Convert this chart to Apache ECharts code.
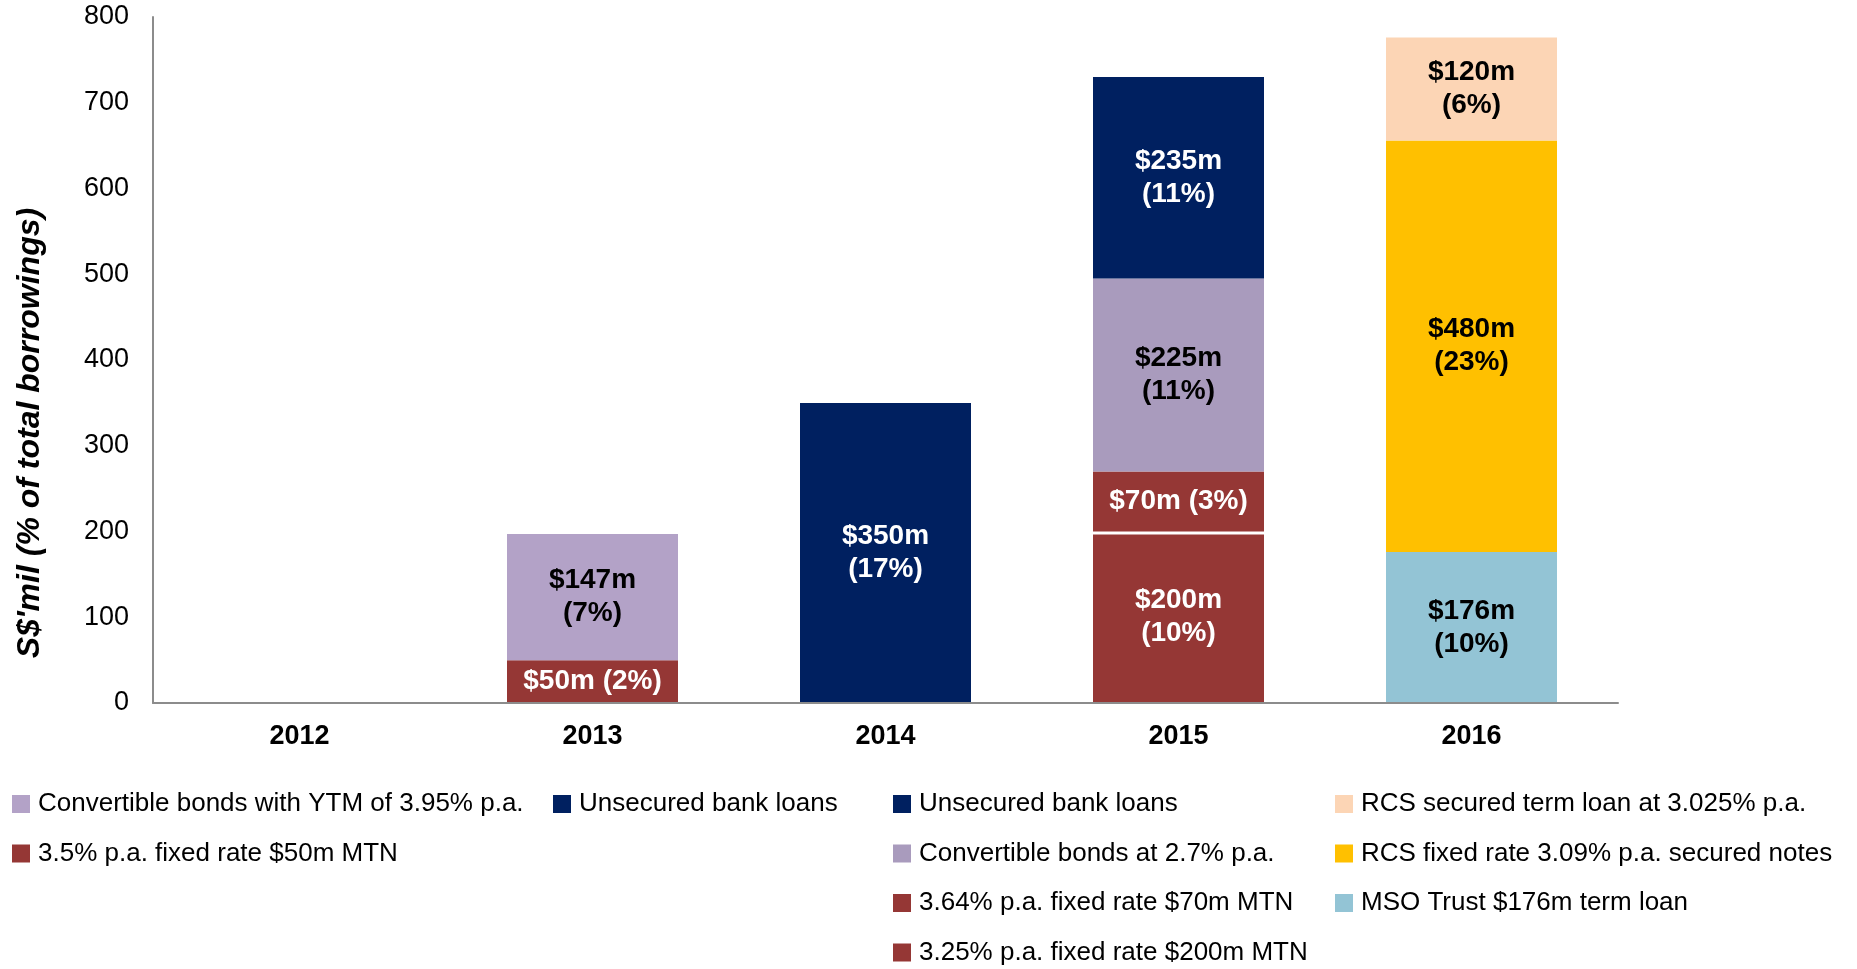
<!DOCTYPE html>
<html>
<head>
<meta charset="utf-8">
<title>Borrowings by maturity</title>
<script src="https://cdn.jsdelivr.net/npm/echarts@6/dist/echarts.min.js"></script>
<style>
  html, body { margin: 0; padding: 0; background: #fff; }
  #content { width: 1857px; height: 969px; }
</style>
</head>
<body>
<div id="content"></div>
<script>
// 数据：每个系列只在自己的年份有值
var years = ['2012', '2013', '2014', '2015', '2016'];

var mtn50    = [null, 50, null, null, null];
var cb395    = [null, 147, null, null, null];
var bank2014 = [null, null, 350, null, null];
var mtn200   = [null, null, null, 200, null];
var mtn70    = [null, null, null, 70, null];
var cb27     = [null, null, null, 225, null];
var bank2015 = [null, null, null, 235, null];
var mso      = [null, null, null, null, 176];
var rcsNotes = [null, null, null, null, 480];
var rcsLoan  = [null, null, null, null, 120];

// % of total borrowings, same order as the series below
var shares = [2, 7, 17, 10, 3, 11, 11, 10, 23, 6];

var legendNames = {
    cb395: 'Convertible bonds with YTM of 3.95% p.a.',
    mtn50: '3.5% p.a. fixed rate $50m MTN',
    bank2014: 'Unsecured bank loans',
    bank2015: 'Unsecured bank loans',
    cb27: 'Convertible bonds at 2.7% p.a.',
    mtn70: '3.64% p.a. fixed rate $70m MTN',
    mtn200: '3.25% p.a. fixed rate $200m MTN',
    rcsLoan: 'RCS secured term loan at 3.025% p.a.',
    rcsNotes: 'RCS fixed rate 3.09% p.a. secured notes',
    mso: 'MSO Trust $176m term loan'
};

var RED = '#953735', NAVY = '#002060';

function seg(key, data, idx, color, textColor, oneLine, extra) {
    var s = {
        name: key,
        type: 'bar',
        stack: 'total',
        barWidth: 171,
        data: data,
        itemStyle: { color: color },
        label: {
            show: true,
            position: 'inside',
            color: textColor,
            fontFamily: 'Liberation Sans, Arial, sans-serif',
            fontWeight: 'bold',
            fontSize: 28,
            lineHeight: 33,
            formatter: function (p) {
                var sep = oneLine ? ' ' : '\n';
                return '$' + p.value + 'm' + sep + '(' + shares[idx] + '%)';
            }
        }
    };
    if (extra) s.itemStyle = Object.assign(s.itemStyle, extra);
    return s;
}

var legendText = {
    fontFamily: 'Liberation Sans, Arial, sans-serif',
    fontSize: 26,
    lineHeight: 26,
    color: '#000',
    padding: [0, 0, 0, 3]
};

function legendCol(left, names) {
    return {
        orient: 'vertical',
        left: left,
        top: 786,
        height: 180,
        itemWidth: 18,
        itemHeight: 18,
        itemGap: 23.5,
        icon: 'rect',
        selectedMode: false,
        data: names,
        formatter: function (n) { return legendNames[n]; },
        textStyle: legendText
    };
}

var option = {
    animation: false,
    backgroundColor: '#fff',
    grid: { left: 153, right: 239, top: 17, bottom: 266 },
    legend: [
        legendCol(7, ['cb395', 'mtn50']),
        legendCol(548, ['bank2014']),
        legendCol(888, ['bank2015', 'cb27', 'mtn70', 'mtn200']),
        legendCol(1330, ['rcsLoan', 'rcsNotes', 'mso'])
    ],
    graphic: [{
        type: 'text',
        x: 30,
        y: 433,
        rotation: Math.PI / 2,
        style: {
            text: "S$'mil (% of total borrowings)",
            fontFamily: 'Liberation Sans, Arial, sans-serif',
            fontWeight: 'bold',
            fontStyle: 'italic',
            fontSize: 32,
            fill: '#000',
            align: 'center',
            verticalAlign: 'middle'
        }
    }],
    xAxis: {
        type: 'category',
        data: years,
        z: 10,
        axisTick: { show: false },
        axisLine: { lineStyle: { color: '#8c8c8c', width: 2 } },
        axisLabel: {
            margin: 20,
            color: '#000',
            fontFamily: 'Liberation Sans, Arial, sans-serif',
            fontWeight: 'bold',
            fontSize: 27
        }
    },
    yAxis: {
        type: 'value',
        min: 0,
        max: 800,
        interval: 100,
        splitLine: { show: false },
        axisTick: { show: false },
        axisLine: { show: true, lineStyle: { color: '#8c8c8c', width: 2 } },
        axisLabel: {
            margin: 24,
            color: '#000',
            fontFamily: 'Liberation Sans, Arial, sans-serif',
            fontSize: 27
        }
    },
    series: [
        seg('mtn50', mtn50, 0, RED, '#fff', true),
        seg('cb395', cb395, 1, '#B3A2C7', '#000', false),
        seg('bank2014', bank2014, 2, NAVY, '#fff', false),
        seg('mtn200', mtn200, 3, RED, '#fff', false),
        // white separator under the $70m block
        seg('mtn70', mtn70, 4, RED, '#fff', true, { shadowColor: '#fff', shadowBlur: 0, shadowOffsetY: 3 }),
        seg('cb27', cb27, 5, '#A99BBD', '#000', false),
        seg('bank2015', bank2015, 6, NAVY, '#fff', false),
        seg('mso', mso, 7, '#93C4D5', '#000', false),
        seg('rcsNotes', rcsNotes, 8, '#FFC000', '#000', false),
        seg('rcsLoan', rcsLoan, 9, '#FCD5B5', '#000', false)
    ]
};

var myChart = echarts.init(document.getElementById('content'));
myChart.setOption(option);
</script>
</body>
</html>
